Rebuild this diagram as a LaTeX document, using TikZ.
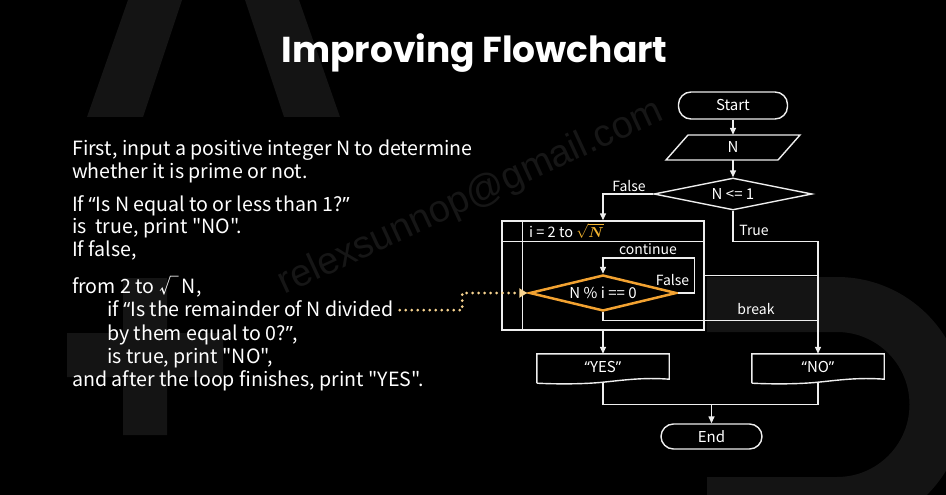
\documentclass[tikz,border=0pt]{standalone}
\usepackage{fontspec}
\usepackage{amsmath}
\newfontfamily\bodyfont{Noto Sans CJK SC}
\newfontfamily\qfont{Noto Sans}
\newfontfamily\titlefont{Poppins}
\newfontfamily\wmfont{Liberation Sans}
\newcommand\qo{{\qfont “}}
\newcommand\qc{{\qfont ”}}
\usetikzlibrary{shapes.geometric,arrows.meta,calc}
\definecolor{fg}{HTML}{EEEEEE}
\definecolor{orangec}{HTML}{F2A231}
\definecolor{dotc}{HTML}{F8D490}
\definecolor{sqc}{HTML}{F5B530}
\definecolor{bgshape}{HTML}{141414}
\definecolor{wmc}{HTML}{161616}
\tikzset{
  ln/.style={draw=fg, line width=1.4pt},
  arr/.style={ln, -{Triangle[length=7pt,width=6pt]}},
  nodetxt/.style={text=white, font=\bodyfont\fontsize{15}{18}\selectfont, inner sep=0pt},
  term/.style={nodetxt, ln, rounded corners=12.5pt},
  dia/.style={nodetxt, diamond, aspect=4},
  lbl/.style={text=white, font=\bodyfont\fontsize{14}{16}\selectfont, inner sep=0pt, anchor=base},
  body/.style={text=white, font=\bodyfont\fontsize{19.6}{24}\selectfont, inner sep=0pt, anchor=base west},
  dotline/.style={draw=dotc, line width=3pt, line cap=round, dash pattern=on 0pt off 6pt,
    -{Triangle[length=8pt,width=9pt,fill=dotc]}}
}
\begin{document}
\begin{tikzpicture}[x=1pt,y=-1pt]
\fill[black] (0,0) rectangle (946,495);
\useasboundingbox (0,0) rectangle (946,495);
% background decorations
\fill[bgshape] (87,117) -- (143,117) -- (182,0) -- (128,0) -- cycle;
\fill[bgshape] (284,117) -- (340,117) -- (299,0) -- (245,0) -- cycle;
\fill[bgshape] (123,278) -- (167,278) -- (167,333) -- (223,333) -- (223,377) -- (167,377)
  -- (167,435) -- (123,435) -- (123,377) -- (67,377) -- (67,333) -- (123,333) -- cycle;
\fill[bgshape] (707,277) -- (837,277) arc[start angle=90,end angle=-90,radius=127.5pt]
  -- (707,532) -- (707,477) -- (837,477) arc[start angle=-90,end angle=90,radius=72.5pt]
  -- (707,332) -- cycle;
% watermark
\node[font=\wmfont\fontsize{38}{40}\selectfont, text=wmc, rotate=24.8, anchor=base, inner sep=0pt] (wm) at (475,207) {relexsunnop@gmail.com};
% title
\node[font=\titlefont\bfseries\fontsize{36}{40}\selectfont, text=white, anchor=base, inner sep=0pt] (title) at (474.5,63) {Improving Flowchart};
% left text
\node[body] (l1) at (72,155) {First, input a positive integer N to determine};
\node[body] (l2) at (72,178) {whether it is prime or not.};
\node[body] (l3) at (72,211) {If \qo Is N equal to or less than 1?\qc};
\node[body] (l4) at (72,233.5) {is \ true, print "NO".};
\node[body] (l5) at (72,256.5) {If false,};
\node[body] (l6) at (72,293.3) {from 2 to √\,N,};
\node[body] (l7) at (107,316.7) {if \qo Is the remainder of N divided};
\node[body] (l8) at (107,340) {by them equal to 0?\qc,};
\node[body] (l9) at (107,363.3) {is true, print "NO",};
\node[body] (l10) at (72,386.7) {and after the loop finishes, print "YES".};
% flowchart nodes
\node[term, minimum width=109pt, minimum height=27pt] (start) at (733,105.5) {Start};
\node[nodetxt, minimum width=90pt, minimum height=25pt] (n) at (733,147.5) {N};
\draw[ln] ($(n.center)+(-45,-12.5)$) -- ($(n.center)+(67,-12.5)$) -- ($(n.center)+(45,12.5)$) -- ($(n.center)+(-67,12.5)$) -- cycle;
\node[dia, ln, minimum width=158pt, minimum height=32pt] (d1) at (733,194) {N <= 1};
\node[ln, minimum width=202pt, minimum height=109pt, inner sep=0pt] (loop) at (603,275.5) {};
\draw[ln] ($(loop.north west)+(21,0)$) -- ($(loop.south west)+(21,0)$);
\draw[ln] ($(loop.north west)+(0,21)$) -- ($(loop.north east)+(0,21)$);
\node[lbl, anchor=base west, font=\bodyfont\fontsize{14.5}{16}\selectfont] (hdr) at (529,237) {i = 2 to \textcolor{sqc}{$\sqrt{\boldsymbol{N}}$}};
\node[dia, draw=orangec, line width=2.5pt, minimum width=147pt, minimum height=36pt] (d2) at (603,293) {N \% i == 0};
\node[nodetxt, minimum width=132pt, minimum height=26pt] (yes) at (603,367) {\qo YES\qc};
\node[nodetxt, minimum width=132pt, minimum height=26pt] (no) at (818,367) {\qo NO\qc};
\foreach \nd in {yes,no}{
  \draw[ln] ($(\nd.south west)+(0,3)$) -- (\nd.north west) -- (\nd.north east) -- ($(\nd.south east)+(0,-1)$)
    .. controls ($(\nd.south east)+(-26,-3)$) and ($(\nd.south)+(20,0)$) .. ($(\nd.south)+(0,2)$)
    .. controls ($(\nd.south)+(-20,4)$) and ($(\nd.south west)+(21,4)$) .. ($(\nd.south west)+(0,3)$);
}
\node[term, minimum width=101pt, minimum height=25pt] (end) at (711.5,436.5) {End};
% connectors
\draw[arr] (start.south) -- (n.north);
\draw[arr] (n.south) -- (d1.north);
\draw[arr] (d1.west) -| (loop.north);
\draw[arr] (d1.south) -- ++(0,31) -| (no.north);
\draw[ln] (loop.east) -- (loop.east -| no.north);
\draw[arr] (d2.east) -- ++(17,0) -- ++(0,-35) -| (d2.north);
\coordinate (brk) at ($(d2.south)+(0,8)$);
\draw[ln] (d2.south) -- (brk) -- (brk -| no.north);
\draw[arr] (loop.south) -- (yes.north);
\coordinate (mrg) at ($(yes.south)+(0,24)$);
\draw[ln] ($(yes.south)+(0,2)$) -- (mrg) -- (mrg -| no.south) -- ($(no.south)+(0,2)$);
\coordinate (mrg2) at (mrg -| end.north);
\draw[arr] (mrg2) -- (end.north);
% dotted pointer
\coordinate (dotA) at ($(l7.base east)+(6,-6.5)$);
\draw[dotline] (dotA) -| ($(d2.west)+(-66,0)$) -- ($(d2.west)+(-1,0)$);
% labels
\node[lbl] (lf1) at (629,191.7) {False};
\node[lbl] (lt) at (754,235.7) {True};
\node[lbl] (lc) at (648,254.5) {continue};
\node[lbl] (lf2) at (672.5,285) {False};
\node[lbl] (lb) at (756,314.3) {break};
\end{tikzpicture}
\end{document}
